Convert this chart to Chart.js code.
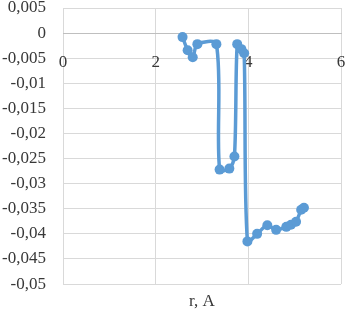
<!DOCTYPE html>
<html>
<head>
<meta charset="utf-8">
<script src="https://cdn.jsdelivr.net/npm/chart.js@4/dist/chart.umd.min.js"></script>
<style>
html,body{margin:0;padding:0;background:#fff;}
#wrap{width:346px;height:309px;position:relative;}
</style>
</head>
<body>
<div id="wrap"><canvas id="c" width="346" height="309"></canvas></div>
<script>
// Data (r in Å, value)
const rValues = [2.58, 2.69, 2.80, 2.90, 3.31, 3.38, 3.59, 3.70, 3.76, 3.85, 3.91, 3.98, 4.19, 4.41, 4.60, 4.82, 4.92, 5.03, 5.14, 5.20];
const yValues = [-0.0008, -0.0034, -0.0048, -0.0022, -0.0022, -0.0272, -0.0270, -0.0246, -0.0022, -0.0032, -0.0040, -0.0415, -0.0400, -0.0383, -0.0392, -0.0386, -0.0382, -0.0376, -0.0352, -0.0348];
const xTicks = [0, 2, 4, 6];
const yRange = [-0.05, 0.005];
const xTitle = "r, A";

const points = rValues.map((x, i) => ({x: x, y: yValues[i]}));
const textColor = '#383838';
const gridColor = '#d9d9d9';
const font = {family: "'Liberation Serif', 'Times New Roman', serif", size: 17};
const zeroPad = (s) => { s.paddingLeft = 0; s.paddingRight = 0; s.paddingTop = 0; s.paddingBottom = 0; };

new Chart(document.getElementById('c'), {
  type: 'scatter',
  data: {
    datasets: [{
      data: points,
      showLine: true,
      borderColor: '#5B9BD5',
      backgroundColor: '#5B9BD5',
      borderWidth: 3.5,
      pointRadius: 5,
      pointHoverRadius: 5,
      pointBorderWidth: 0,
      tension: 0.3
    }]
  },
  options: {
    responsive: false,
    animation: false,
    devicePixelRatio: 1,
    layout: {padding: {left: 0, right: 4, top: 8, bottom: 0}},
    plugins: {
      legend: {display: false},
      tooltip: {enabled: false},
      title: {display: false}
    },
    scales: {
      x: {
        type: 'linear',
        min: xTicks[0],
        max: xTicks[xTicks.length - 1],
        position: {y: 0},
        afterBuildTicks: (s) => { s.ticks = xTicks.map(v => ({value: v})); },
        afterFit: zeroPad,
        grid: {color: gridColor, lineWidth: 1, drawTicks: false},
        border: {display: true, color: '#bfbfbf', width: 1},
        ticks: {color: textColor, font: font, padding: 19, maxRotation: 0}
      },
      xTitleAxis: {
        type: 'linear',
        axis: 'x',
        position: 'bottom',
        min: xTicks[0],
        max: xTicks[xTicks.length - 1],
        afterFit: zeroPad,
        grid: {display: false, drawTicks: false},
        border: {display: false},
        ticks: {display: false},
        title: {
          display: true,
          text: xTitle,
          color: textColor,
          font: {family: font.family, size: 17, weight: 'normal', lineHeight: 0.82},
          padding: {top: 11, bottom: 0}
        }
      },
      y: {
        type: 'linear',
        min: yRange[0],
        max: yRange[1],
        afterFit: (s) => { s.width = 63; s.paddingTop = 0; s.paddingBottom = 0; },
        grid: {color: gridColor, lineWidth: 1, drawTicks: false},
        border: {display: false},
        ticks: {
          stepSize: 0.005,
          color: textColor,
          font: font,
          padding: 17,
          callback: (v) => Number(v.toFixed(3)).toString().replace('.', ',')
        }
      }
    }
  }
});
</script>
</body>
</html>
